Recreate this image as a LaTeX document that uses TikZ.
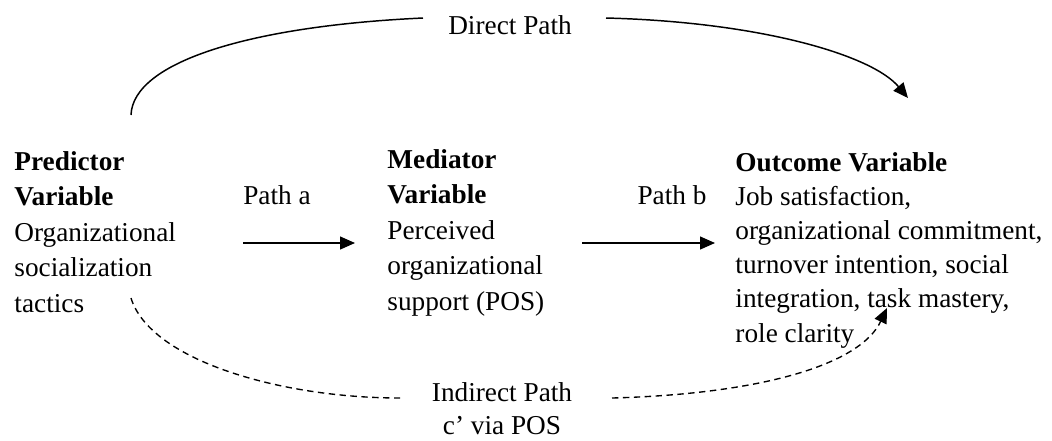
\documentclass[tikz,border=0pt]{standalone}
\usepackage{fontspec}
\setmainfont{Liberation Serif}
\usetikzlibrary{arrows.meta}

\tikzset{
  varbox/.style={anchor=base west, align=left, inner sep=0pt,
    font=\fontsize{12}{15.6}\selectfont},
  lbl/.style={anchor=base, inner sep=0pt, font=\fontsize{12}{15.6}\selectfont},
  patharrow/.style={line width=0.65pt, -{Triangle[length=6.6pt, width=5.7pt]}},
  dashline/.style={line width=0.6pt, dash pattern=on 2.8pt off 2pt}
}

\begin{document}
\begin{tikzpicture}[x=0.44pt, y=0.44pt]
  \useasboundingbox (0,0) rectangle (1052,-440);

  % Variable blocks (anchored at the baseline of their last line)
  \node[varbox] (pred) at (14,-312)
    {\textbf{Predictor}\\\textbf{Variable}\\Organizational\\socialization\\tactics};
  \node[varbox] (med) at (387,-310)
    {\textbf{Mediator}\\\textbf{Variable}\\Perceived\\organizational\\support (POS)};
  \node[varbox, font=\fontsize{12}{15}\selectfont] (out) at (735,-342)
    {\textbf{Outcome Variable}\\Job satisfaction,\\organizational commitment,\\turnover intention, social\\integration, task mastery,\\role clarity};

  % Path labels
  \node[lbl] (patha) at (277,-204) {Path a};
  \node[lbl] (pathb) at (672,-204) {Path b};
  \node[lbl] (direct) at (510,-34) {Direct Path};
  \node[lbl, align=center, font=\fontsize{12}{14.5}\selectfont] (indirect) at (502,-434)
    {Indirect Path\\c' via POS};

  % Free ends of the connectors
  \coordinate (a0) at (243,-243);
  \coordinate (a1) at (355,-243);
  \coordinate (b0) at (582,-243);
  \coordinate (b1) at (715,-243);
  \coordinate (d0) at (131,-115);
  \coordinate (d1) at (908,-98);
  \coordinate (i0) at (131,-298);
  \coordinate (i1) at (887,-308);

  % Path a and Path b
  \draw[patharrow] (a0) -- (a1);
  \draw[patharrow] (b0) -- (b1);

  % Direct path, broken by its label
  \draw[line width=0.65pt] (d0) .. controls (133,-62) and (250,-26) .. (423,-18);
  \draw[patharrow] (606,-18) .. controls (760,-22) and (872,-55) .. (d1);

  % Indirect path, dashed and broken by its label
  \draw[dashline] (i0) .. controls (150,-360) and (280,-398) .. (400,-398);
  \draw[dashline, -{Triangle[length=6.6pt, width=5.7pt]}]
    (612,-398) .. controls (760,-394) and (860,-365) .. (i1);
\end{tikzpicture}
\end{document}
